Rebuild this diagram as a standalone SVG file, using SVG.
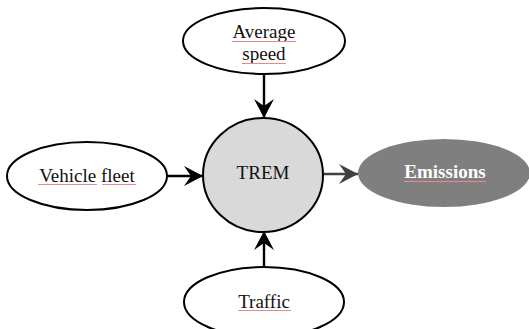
<svg xmlns="http://www.w3.org/2000/svg" width="529" height="329" viewBox="0 0 529 329">
<style>
.in{fill:#fff;stroke:#000;stroke-width:2}
.t{font-family:"Liberation Serif","Times New Roman",serif;font-size:19px;fill:#111;text-anchor:middle}
.sp{stroke:#e88a8a;stroke-width:1;fill:none}
.c{stroke:#000;stroke-width:2.4;fill:none}
</style>
<defs>
<marker id="ab" markerUnits="userSpaceOnUse" markerWidth="22" markerHeight="22" viewBox="-20 -11 22 22" refX="0" refY="0" orient="auto">
<path d="M0,0 L-19,-10 L-12,0 L-19,10 Z" fill="#000"/>
</marker>
<marker id="ag" markerUnits="userSpaceOnUse" markerWidth="22" markerHeight="22" viewBox="-20 -11 22 22" refX="0" refY="0" orient="auto">
<path d="M0,0 L-19,-10 L-12,0 L-19,10 Z" fill="#404040"/>
</marker>
</defs>
<g id="connectors">
<line class="c" x1="264" y1="74" x2="264" y2="118" marker-end="url(#ab)"/>
<line class="c" x1="166" y1="176" x2="203" y2="176" marker-end="url(#ab)"/>
<line class="c" x1="264" y1="267" x2="264" y2="231" marker-end="url(#ab)"/>
<line x1="324" y1="174" x2="358" y2="174" stroke="#404040" stroke-width="2.4" marker-end="url(#ag)"/>
</g>
<g id="average-speed">
<ellipse class="in" cx="264" cy="41" rx="81" ry="33"/>
<text class="t" x="264" y="38">Average</text>
<text class="t" x="264" y="60">speed</text>
<line class="sp" x1="232" y1="41.5" x2="296" y2="41.5"/>
<line class="sp" x1="242" y1="63.5" x2="286" y2="63.5"/>
</g>
<g id="vehicle-fleet">
<ellipse class="in" cx="87" cy="176" rx="80" ry="34"/>
<text class="t" x="87" y="182">Vehicle fleet</text>
<line class="sp" x1="38" y1="184.5" x2="97" y2="184.5"/>
<line class="sp" x1="102" y1="184.5" x2="136" y2="184.5"/>
</g>
<g id="trem">
<ellipse cx="263" cy="175" rx="60" ry="57" fill="#d9d9d9" stroke="#000" stroke-width="2"/>
<text class="t" x="263" y="179">TREM</text>
</g>
<g id="emissions">
<ellipse cx="444" cy="173" rx="86" ry="34" fill="#7f7f7f"/>
<text class="t" x="445" y="178" style="fill:#fff;font-weight:bold">Emissions</text>
<line class="sp" x1="404" y1="181.5" x2="486" y2="181.5"/>
</g>
<g id="traffic">
<ellipse class="in" cx="264" cy="302" rx="80" ry="35"/>
<text class="t" x="264" y="308">Traffic</text>
<line class="sp" x1="238" y1="310.5" x2="291" y2="310.5"/>
</g>
</svg>
